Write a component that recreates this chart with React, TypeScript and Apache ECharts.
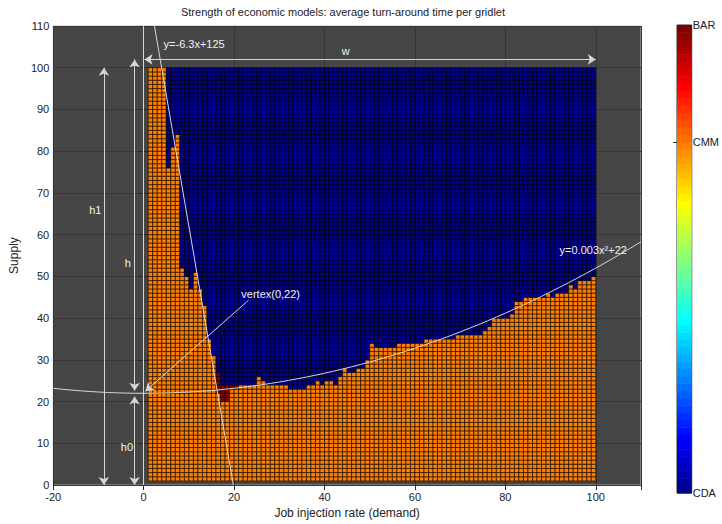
import { useEffect, useRef } from "react";
import * as echarts from "echarts";

const FONT = "'Liberation Sans', Arial, Helvetica, sans-serif";

const titleText = "Strength of economic models: average turn-around time per gridlet";
const xAxisName = "Job injection rate (demand)";
const yAxisName = "Supply";

// Demand / supply cell indices; each cell spans [i, i + 1]
const demandCells = Array.from({ length: 99 }, (_, i) => i + 1);
const supplyCells = Array.from({ length: 99 }, (_, i) => i + 1);

// Upper edge of the CMM region for every demand column (x = 1 … 99)
const cmmTop = [
  100, 100, 100, 100, 76, 81, 84, 52, 50, 47, 51, 47, 43, 35, 31, 27,
  24, 24, 24, 24, 24, 24, 24, 24, 26, 25, 24, 24, 24, 24, 24, 23, 23, 23, 23,
  24, 24, 25, 24, 25, 25, 24, 26, 28, 27, 27, 28, 28, 30, 34,
  33, 33, 33, 33, 33, 34, 34, 34, 34, 34, 34, 35, 35, 35, 35, 35, 35, 35,
  36, 36, 36, 36, 36, 36, 37, 38, 40, 40, 40, 40, 41, 44, 44,
  45, 45, 45, 45, 45, 46, 45, 46, 46, 46, 48, 47, 49, 49, 49, 50,
];

// Cells where BAR wins
const barX = [16, 16, 16, 16, 16, 17, 17, 17, 17, 18, 18, 18, 18, 19, 20];
const barY = [22, 23, 24, 25, 26, 20, 21, 22, 23, 20, 21, 22, 23, 23, 23];

// Model names and their level on the colour scale
const modelNames = ["CDA", "CMM", "BAR"];
const modelLevels = [0, 1.5, 2];
const levelMax = 2;

// Fitted boundaries printed on the chart
const steepSlope = -6.3;
const steepIntercept = 125;
const parabolaA = 0.003;
const parabolaC = 22;

// Dimension arrows and pointers: [x0, y0] -> [x1, y1]
const arrowFrom = [[0.2, 102], [-8.8, 0], [-2, 22.6], [-2, 0], [23.2, 44.3], [0, 0]];
const arrowTo = [[100, 102], [-8.8, 100], [-2, 102], [-2, 21.2], [0.4, 22.5], [0, 110]];
const arrowHeads = [
  ["arrow", "arrow"], ["arrow", "arrow"], ["arrow", "arrow"], ["arrow", "arrow"],
  ["none", "arrow"], ["none", "none"],
];

// Annotation labels
const noteText = ["y=-6.3x+125", "w", "h1", "h", "h0", "vertex(0,22)", "y=0.003x²+22"];
const noteX = [4.4, 44.7, -10.7, -3.5, -3.7, 21.6, 92.0];
const noteY = [105.8, 104.1, 65.8, 53.3, 9.2, 45.8, 56.4];
const noteAlign = ["left", "center", "center", "center", "center", "left", "left"];

// MATLAB-style jet colormap with 64 entries
function jet64(): string[] {
  const m = 64;
  const n = 16;
  const u: number[] = [];
  for (let i = 1; i <= n; i++) u.push(i / n);
  for (let i = 0; i < n - 1; i++) u.push(1);
  for (let i = n; i >= 1; i--) u.push(i / n);
  const off = Math.ceil(n / 2);
  const R = new Array(m).fill(0);
  const G = new Array(m).fill(0);
  const B = new Array(m).fill(0);
  u.forEach((v, k) => {
    const g = off + k + 1;
    const r = g + n;
    const b = g - n;
    if (g >= 1 && g <= m) G[g - 1] = v;
    if (r >= 1 && r <= m) R[r - 1] = v;
    if (b >= 1 && b <= m) B[b - 1] = v;
  });
  return R.map((_, i) =>
    `rgb(${Math.round(R[i] * 255)},${Math.round(G[i] * 255)},${Math.round(B[i] * 255)})`
  );
}

const JET = jet64();
const modelColors = modelLevels.map((l) => JET[Math.round((l / levelMax) * 63)]);

function buildCells(): number[][] {
  const bar = new Set(barX.map((x, i) => `${x},${barY[i]}`));
  const out: number[][] = [];
  demandCells.forEach((x, i) => {
    supplyCells.forEach((y) => {
      let code = y < cmmTop[i] ? 1 : 0;
      if (bar.has(`${x},${y}`)) code = 2;
      out.push([x, y, code]);
    });
  });
  return out;
}

export default function App() {
  const ref = useRef<HTMLDivElement>(null);

  useEffect(() => {
    if (!ref.current) return;
    const chart = echarts.init(ref.current, null, { renderer: "svg" });

    const cells = buildCells();
    const colorbarData = JET.map((_, i) => [i]);
    const parabola: number[][] = [];
    for (let x = -20; x <= 110; x += 2) parabola.push([x, parabolaA * x * x + parabolaC]);
    const steep = [
      [(steepIntercept - 110) / -steepSlope, 110],
      [steepIntercept / -steepSlope, 0],
    ];
    const arrows = arrowFrom.map((f, i) => ({
      coords: [f, arrowTo[i]],
      symbol: arrowHeads[i],
    }));
    const notes = noteText.map((_, i) => [noteX[i], noteY[i], i]);

    const axisText = { color: "#222", fontSize: 11, fontFamily: FONT };

    chart.setOption({
      animation: false,
      backgroundColor: "#ffffff",
      graphic: [
        {
          type: "text",
          x: 343,
          y: 12,
          style: {
            text: titleText,
            fill: "#222",
            font: `11px ${FONT}`,
            textAlign: "center",
            textVerticalAlign: "middle",
          },
        },
      ],
      grid: [
        {
          left: 45, top: 26, width: 596, height: 468,
          show: true, backgroundColor: "#464646", borderColor: "#bdbdbd", borderWidth: 1,
        },
        {
          left: 677, top: 25, width: 16, height: 468,
          show: true, backgroundColor: "transparent", borderColor: "#333", borderWidth: 1,
        },
      ],
      xAxis: [
        {
          gridIndex: 0, type: "value", min: -20, max: 110, interval: 20,
          axisLine: { show: false },
          axisTick: { inside: true, length: 5, lineStyle: { color: "#2a2a2a" } },
          axisLabel: {
            ...axisText, margin: 6, showMaxLabel: false,
            formatter: (v: number) => (v % 20 === 0 ? String(v) : ""),
          },
          splitLine: { show: true, lineStyle: { color: "#363636", width: 1 } },
          name: xAxisName, nameLocation: "middle", nameGap: 17,
          nameTextStyle: { color: "#222", fontSize: 12, fontFamily: FONT, verticalAlign: "top" },
        },
        {
          gridIndex: 0, type: "value", min: -20, max: 110, interval: 20, position: "top",
          axisLine: { show: false },
          axisTick: { inside: true, length: 5, lineStyle: { color: "#2a2a2a" } },
          axisLabel: { show: false }, splitLine: { show: false },
        },
        { gridIndex: 1, type: "value", min: 0, max: 1, show: false },
      ],
      yAxis: [
        {
          gridIndex: 0, type: "value", min: 0, max: 110, interval: 10,
          axisLine: { show: false },
          axisTick: { inside: true, length: 5, lineStyle: { color: "#2a2a2a" } },
          axisLabel: { ...axisText, margin: 4 },
          splitLine: { show: true, lineStyle: { color: "#363636", width: 1 } },
          name: yAxisName, nameLocation: "middle", nameGap: 31, nameRotate: 90,
          nameTextStyle: { color: "#222", fontSize: 12, fontFamily: FONT },
        },
        {
          gridIndex: 0, type: "value", min: 0, max: 110, interval: 10, position: "right",
          axisLine: { show: false },
          axisTick: { inside: true, length: 5, lineStyle: { color: "#2a2a2a" } },
          axisLabel: { show: false }, splitLine: { show: false },
        },
        {
          gridIndex: 1, type: "value", min: 0, max: levelMax, interval: 0.5, position: "right",
          axisLine: { show: false },
          axisTick: { show: true, inside: true, length: 4, customValues: [modelLevels[1]], lineStyle: { color: "#333" } },
          axisLabel: {
            ...axisText, margin: 1, customValues: modelLevels,
            showMinLabel: true, showMaxLabel: true,
            formatter: (v: number) => {
              const k = modelLevels.findIndex((l) => Math.abs(l - v) < 1e-6);
              return k >= 0 ? modelNames[k] : "";
            },
          },
          splitLine: { show: false },
        },
        {
          gridIndex: 1, type: "value", min: 0, max: levelMax, interval: 0.5, position: "left",
          axisLine: { show: false },
          axisTick: { show: true, inside: true, length: 4, customValues: [modelLevels[1]], lineStyle: { color: "#333" } },
          axisLabel: { show: false }, splitLine: { show: false },
        },
      ],
      series: [
        {
          type: "custom",
          name: "models",
          xAxisIndex: 0, yAxisIndex: 0,
          data: cells,
          progressive: 0,
          encode: { x: 0, y: 1 },
          renderItem: (_p: any, api: any) => {
            const x = api.value(0);
            const y = api.value(1);
            const code = api.value(2);
            const a = api.coord([x, y + 1]);
            const b = api.coord([x + 1, y]);
            return {
              type: "rect",
              shape: { x: a[0], y: a[1], width: b[0] - a[0], height: b[1] - a[1] },
              style: { fill: modelColors[code], stroke: "rgba(0,0,0,0.8)", lineWidth: 0.7 },
            };
          },
          z: 2,
        },
        {
          type: "custom",
          name: "colorbar",
          xAxisIndex: 2, yAxisIndex: 2,
          data: colorbarData,
          renderItem: (_p: any, api: any) => {
            const i = api.value(0);
            const step = levelMax / JET.length;
            const a = api.coord([0, (i + 1) * step]);
            const b = api.coord([1, i * step]);
            return {
              type: "rect",
              shape: { x: a[0], y: a[1], width: b[0] - a[0], height: b[1] - a[1] + 0.5 },
              style: { fill: JET[i] },
            };
          },
          z: 2,
        },
        {
          type: "line",
          name: "parabola",
          xAxisIndex: 0, yAxisIndex: 0,
          data: parabola,
          showSymbol: false,
          lineStyle: { color: "#d6d6d6", width: 1 },
          z: 5,
        },
        {
          type: "line",
          name: "steep",
          xAxisIndex: 0, yAxisIndex: 0,
          data: steep,
          showSymbol: false,
          lineStyle: { color: "#d6d6d6", width: 1 },
          z: 5,
        },
        {
          type: "lines",
          coordinateSystem: "cartesian2d",
          xAxisIndex: 0, yAxisIndex: 0,
          data: arrows,
          symbolSize: 8,
          lineStyle: { color: "#d6d6d6", width: 1, opacity: 1 },
          itemStyle: { color: "#e6e6e6" },
          z: 6,
        },
        {
          type: "custom",
          name: "notes",
          xAxisIndex: 0, yAxisIndex: 0,
          data: notes,
          renderItem: (_p: any, api: any) => {
            const k = api.value(2);
            const p = api.coord([api.value(0), api.value(1)]);
            return {
              type: "text",
              x: p[0],
              y: p[1],
              style: {
                text: noteText[k],
                fill: "#f2f2f2",
                font: `11px ${FONT}`,
                align: noteAlign[k],
                verticalAlign: "middle",
              },
            };
          },
          z: 7,
        },
      ],
    });

    return () => chart.dispose();
  }, []);

  return (
    <div
      ref={ref}
      style={{ position: "absolute", left: 0, top: 0, width: 722, height: 524 }}
    />
  );
}
